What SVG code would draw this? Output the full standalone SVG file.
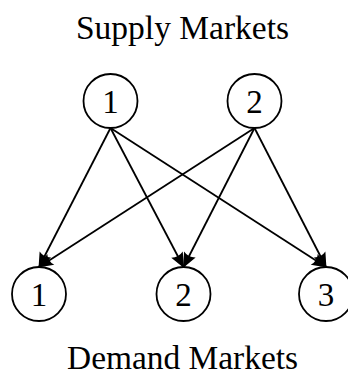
<svg xmlns="http://www.w3.org/2000/svg" width="348" height="377" viewBox="0 0 348 377">
<defs>
<style>
text{font-family:"Liberation Serif","DejaVu Serif",serif;fill:#000;text-anchor:middle}
.lbl{font-size:33px}
.num{font-size:33px}
circle{fill:#fff;stroke:#000;stroke-width:1.8}
.edge{stroke:#000;stroke-width:1.8;fill:none;marker-end:url(#arr)}
</style>
<marker id="arr" markerUnits="userSpaceOnUse" markerWidth="18" markerHeight="16" viewBox="-16 -8 18 16" refX="0" refY="0" orient="auto">
<path d="M1,0 L-14,-6.5 Q-10.5,0 -14,6.5 Z" fill="#000"/>
</marker>
</defs>
<text class="lbl" x="182.5" y="38.7" textLength="213" lengthAdjust="spacingAndGlyphs">Supply Markets</text>
<text class="lbl" x="182.5" y="369" textLength="231" lengthAdjust="spacingAndGlyphs">Demand Markets</text>
<g id="connectors">
<line class="edge" x1="110.5" y1="128" x2="39" y2="267"/>
<line class="edge" x1="110.5" y1="128" x2="183.5" y2="267"/>
<line class="edge" x1="110.5" y1="128" x2="326" y2="267"/>
<line class="edge" x1="254.5" y1="128" x2="39" y2="267"/>
<line class="edge" x1="254.5" y1="128" x2="183.5" y2="267"/>
<line class="edge" x1="254.5" y1="128" x2="326" y2="267"/>
</g>
<g id="s1"><circle cx="110.5" cy="101" r="27"/><text class="num" x="110.5" y="112.5">1</text></g>
<g id="s2"><circle cx="254.5" cy="101" r="27"/><text class="num" x="254.5" y="112.5">2</text></g>
<g id="d1"><circle cx="39" cy="294" r="27"/><text class="num" x="39" y="305.5">1</text></g>
<g id="d2"><circle cx="183.5" cy="294" r="27"/><text class="num" x="183.5" y="305.5">2</text></g>
<g id="d3"><circle cx="326" cy="294" r="27"/><text class="num" x="326" y="305.5">3</text></g>
</svg>
